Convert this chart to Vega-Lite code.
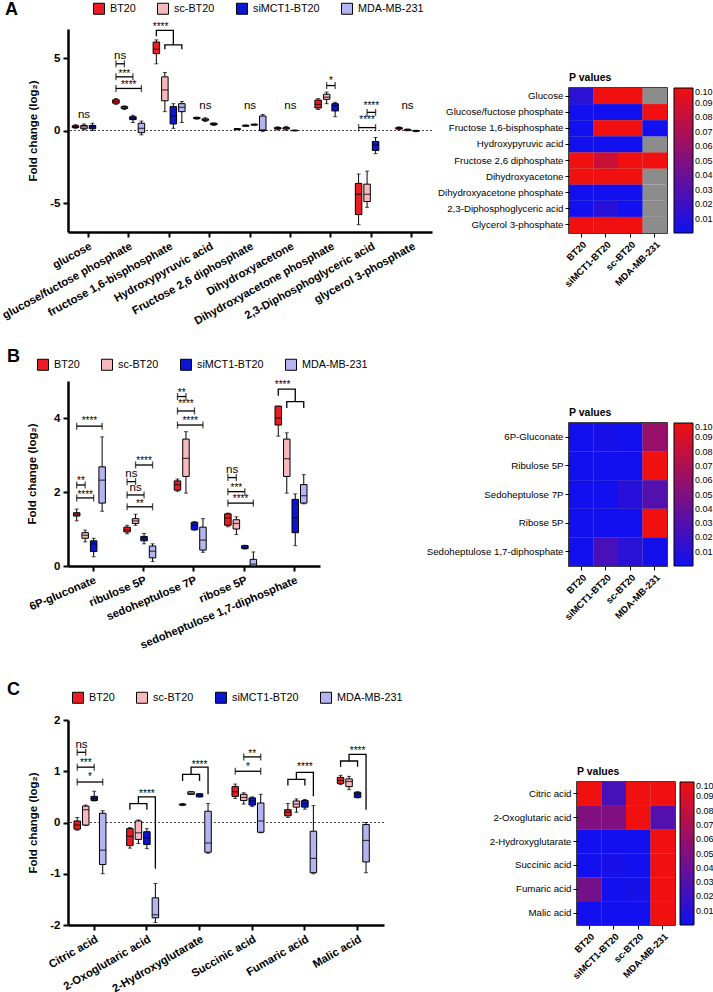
{
"$schema": "https://vega.github.io/schema/vega-lite/v6.json",
"padding": {"left": 0, "top": 2, "right": 0, "bottom": 0},
"config": {"font": "Liberation Sans", "view": {"stroke": null}, "axis": {"domainColor": "black", "tickColor": "black", "labelColor": "black", "titleColor": "black", "grid": false}, "legend": {"labelColor": "black", "titleColor": "black"}, "title": {"color": "black"}},
"datasets": {
"boxA": [
{"m":"glucose","g":"BT20","min":0.15,"q1":0.2,"med":0.27,"q3":0.33,"max":0.4},
{"m":"glucose","g":"sc-BT20","min":0.05,"q1":0.12,"med":0.25,"q3":0.35,"max":0.45},
{"m":"glucose","g":"siMCT1-BT20","min":0.0,"q1":0.12,"med":0.25,"q3":0.35,"max":0.5},
{"m":"glucose/fuctose phosphate","g":"BT20","min":1.8,"q1":1.88,"med":2.0,"q3":2.12,"max":2.2},
{"m":"glucose/fuctose phosphate","g":"sc-BT20","min":1.45,"q1":1.52,"med":1.58,"q3":1.65,"max":1.7},
{"m":"glucose/fuctose phosphate","g":"siMCT1-BT20","min":0.55,"q1":0.75,"med":0.85,"q3":0.95,"max":1.05},
{"m":"glucose/fuctose phosphate","g":"MDA-MB-231","min":-0.3,"q1":-0.15,"med":0.15,"q3":0.5,"max":0.65},
{"m":"fructose 1,6-bisphosphate","g":"BT20","min":4.6,"q1":5.3,"med":5.6,"q3":6.1,"max":6.25},
{"m":"fructose 1,6-bisphosphate","g":"sc-BT20","min":1.3,"q1":2.05,"med":2.8,"q3":3.7,"max":4.0},
{"m":"fructose 1,6-bisphosphate","g":"siMCT1-BT20","min":0.15,"q1":0.45,"med":1.0,"q3":1.65,"max":1.85},
{"m":"fructose 1,6-bisphosphate","g":"MDA-MB-231","min":0.55,"q1":1.3,"med":1.6,"q3":1.85,"max":2.0},
{"m":"Hydroxypyruvic acid","g":"BT20","min":0.78,"q1":0.82,"med":0.85,"q3":0.9,"max":0.92},
{"m":"Hydroxypyruvic acid","g":"sc-BT20","min":0.62,"q1":0.7,"med":0.75,"q3":0.8,"max":0.88},
{"m":"Hydroxypyruvic acid","g":"siMCT1-BT20","min":0.35,"q1":0.4,"med":0.45,"q3":0.5,"max":0.52},
{"m":"Fructose 2,6 diphosphate","g":"BT20","min":0.05,"q1":0.07,"med":0.1,"q3":0.12,"max":0.14},
{"m":"Fructose 2,6 diphosphate","g":"sc-BT20","min":0.28,"q1":0.3,"med":0.33,"q3":0.36,"max":0.38},
{"m":"Fructose 2,6 diphosphate","g":"siMCT1-BT20","min":0.36,"q1":0.38,"med":0.4,"q3":0.43,"max":0.45},
{"m":"Fructose 2,6 diphosphate","g":"MDA-MB-231","min":-0.08,"q1":0.0,"med":0.05,"q3":1.0,"max":1.1},
{"m":"Dihydroxyacetone","g":"BT20","min":0.05,"q1":0.1,"med":0.15,"q3":0.2,"max":0.25},
{"m":"Dihydroxyacetone","g":"sc-BT20","min":0.02,"q1":0.1,"med":0.15,"q3":0.2,"max":0.28},
{"m":"Dihydroxyacetone","g":"siMCT1-BT20","min":-0.03,"q1":-0.01,"med":0.0,"q3":0.01,"max":0.03},
{"m":"Dihydroxyacetone phosphate","g":"BT20","min":1.45,"q1":1.55,"med":1.8,"q3":2.1,"max":2.2},
{"m":"Dihydroxyacetone phosphate","g":"sc-BT20","min":1.85,"q1":2.15,"med":2.3,"q3":2.5,"max":2.65},
{"m":"Dihydroxyacetone phosphate","g":"siMCT1-BT20","min":0.95,"q1":1.35,"med":1.7,"q3":1.85,"max":1.95},
{"m":"2,3-Diphosphoglyceric acid","g":"BT20","min":-6.5,"q1":-5.8,"med":-4.4,"q3":-3.65,"max":-3.0},
{"m":"2,3-Diphosphoglyceric acid","g":"sc-BT20","min":-5.3,"q1":-4.9,"med":-4.4,"q3":-3.7,"max":-2.8},
{"m":"2,3-Diphosphoglyceric acid","g":"siMCT1-BT20","min":-1.6,"q1":-1.38,"med":-1.0,"q3":-0.76,"max":-0.48},
{"m":"glycerol 3-phosphate","g":"BT20","min":0.05,"q1":0.1,"med":0.15,"q3":0.2,"max":0.25},
{"m":"glycerol 3-phosphate","g":"sc-BT20","min":-0.02,"q1":0.02,"med":0.05,"q3":0.08,"max":0.1},
{"m":"glycerol 3-phosphate","g":"siMCT1-BT20","min":-0.08,"q1":-0.05,"med":-0.03,"q3":0.0,"max":0.02}
],
"brA": [
{"id":"a1","m":"glucose/fuctose phosphate","from":"BT20","to":"sc-BT20","y":4.6},
{"id":"a2","m":"glucose/fuctose phosphate","from":"BT20","to":"siMCT1-BT20","y":3.7},
{"id":"a3","m":"glucose/fuctose phosphate","from":"BT20","to":"MDA-MB-231","y":2.9},
{"id":"a4","m":"Dihydroxyacetone phosphate","from":"sc-BT20","to":"siMCT1-BT20","y":3.1},
{"id":"a5","m":"2,3-Diphosphoglyceric acid","from":"sc-BT20","to":"siMCT1-BT20","y":1.25},
{"id":"a6","m":"2,3-Diphosphoglyceric acid","from":"BT20","to":"siMCT1-BT20","y":0.2}
],
"pathA": [
{"id":"p1","m":"fructose 1,6-bisphosphate","slot":"BT20","y":6.5,"o":1},
{"id":"p1","m":"fructose 1,6-bisphosphate","slot":"BT20","y":6.9,"o":2},
{"id":"p1","m":"fructose 1,6-bisphosphate","slot":"siMCT1-BT20","y":6.9,"o":3},
{"id":"p1","m":"fructose 1,6-bisphosphate","slot":"siMCT1-BT20","y":5.9,"o":4},
{"id":"p2","m":"fructose 1,6-bisphosphate","slot":"sc-BT20","y":5.6,"o":1},
{"id":"p2","m":"fructose 1,6-bisphosphate","slot":"sc-BT20","y":5.9,"o":2},
{"id":"p2","m":"fructose 1,6-bisphosphate","slot":"MDA-MB-231","y":5.9,"o":3},
{"id":"p2","m":"fructose 1,6-bisphosphate","slot":"MDA-MB-231","y":5.6,"o":4}
],
"lblA": [
{"m":"glucose","mid":"sc-BT20","y":1.1,"t":"ns"},
{"m":"glucose/fuctose phosphate","mid":"BT20/sc-BT20","y":5.15,"t":"ns"},
{"m":"glucose/fuctose phosphate","mid":"sc-BT20","y":4.05,"t":"***"},
{"m":"glucose/fuctose phosphate","mid":"sc-BT20/siMCT1-BT20","y":3.25,"t":"****"},
{"m":"fructose 1,6-bisphosphate","mid":"BT20/sc-BT20","y":7.3,"t":"****"},
{"m":"Hydroxypyruvic acid","mid":"sc-BT20","y":1.72,"t":"ns"},
{"m":"Fructose 2,6 diphosphate","mid":"sc-BT20/siMCT1-BT20","y":1.72,"t":"ns"},
{"m":"Dihydroxyacetone","mid":"sc-BT20/siMCT1-BT20","y":1.72,"t":"ns"},
{"m":"Dihydroxyacetone phosphate","mid":"sc-BT20/siMCT1-BT20","y":3.55,"t":"*"},
{"m":"2,3-Diphosphoglyceric acid","mid":"sc-BT20/siMCT1-BT20","y":1.8,"t":"****"},
{"m":"2,3-Diphosphoglyceric acid","mid":"sc-BT20","y":0.83,"t":"****"},
{"m":"glycerol 3-phosphate","mid":"sc-BT20","y":1.72,"t":"ns"}
],
"boxB": [
{"m":"6P-gluconate","g":"BT20","min":1.22,"q1":1.35,"med":1.4,"q3":1.44,"max":1.54},
{"m":"6P-gluconate","g":"sc-BT20","min":0.65,"q1":0.75,"med":0.83,"q3":0.9,"max":0.97},
{"m":"6P-gluconate","g":"siMCT1-BT20","min":0.25,"q1":0.39,"med":0.6,"q3":0.68,"max":0.75},
{"m":"6P-gluconate","g":"MDA-MB-231","min":1.48,"q1":1.7,"med":2.32,"q3":2.68,"max":3.49},
{"m":"ribulose 5P","g":"BT20","min":0.87,"q1":0.92,"med":0.98,"q3":1.05,"max":1.1},
{"m":"ribulose 5P","g":"sc-BT20","min":1.1,"q1":1.15,"med":1.22,"q3":1.28,"max":1.4},
{"m":"ribulose 5P","g":"siMCT1-BT20","min":0.6,"q1":0.68,"med":0.75,"q3":0.8,"max":0.88},
{"m":"ribulose 5P","g":"MDA-MB-231","min":0.12,"q1":0.22,"med":0.4,"q3":0.54,"max":0.6},
{"m":"sedoheptulose 7P","g":"BT20","min":2.02,"q1":2.05,"med":2.2,"q3":2.3,"max":2.35},
{"m":"sedoheptulose 7P","g":"sc-BT20","min":1.97,"q1":2.42,"med":2.91,"q3":3.43,"max":3.63},
{"m":"sedoheptulose 7P","g":"siMCT1-BT20","min":0.97,"q1":0.98,"med":1.1,"q3":1.18,"max":1.2},
{"m":"sedoheptulose 7P","g":"MDA-MB-231","min":0.37,"q1":0.43,"med":0.7,"q3":1.05,"max":1.28},
{"m":"ribose 5P","g":"BT20","min":1.06,"q1":1.1,"med":1.3,"q3":1.41,"max":1.43},
{"m":"ribose 5P","g":"sc-BT20","min":0.85,"q1":1.0,"med":1.15,"q3":1.25,"max":1.33},
{"m":"ribose 5P","g":"siMCT1-BT20","min":0.46,"q1":0.47,"med":0.5,"q3":0.55,"max":0.56},
{"m":"ribose 5P","g":"MDA-MB-231","min":0.0,"q1":0.0,"med":0.05,"q3":0.18,"max":0.38},
{"m":"sedoheptulose 1,7-diphosphate","g":"BT20","min":3.51,"q1":3.81,"med":4.0,"q3":4.32,"max":4.32},
{"m":"sedoheptulose 1,7-diphosphate","g":"sc-BT20","min":1.97,"q1":2.42,"med":2.9,"q3":3.43,"max":3.6},
{"m":"sedoheptulose 1,7-diphosphate","g":"siMCT1-BT20","min":0.55,"q1":0.9,"med":1.3,"q3":1.8,"max":1.95},
{"m":"sedoheptulose 1,7-diphosphate","g":"MDA-MB-231","min":1.68,"q1":1.7,"med":1.9,"q3":2.2,"max":2.47}
],
"brB": [
{"id":"b1","m":"6P-gluconate","from":"BT20","to":"MDA-MB-231","y":3.78},
{"id":"b2","m":"6P-gluconate","from":"BT20","to":"sc-BT20","y":2.19},
{"id":"b3","m":"6P-gluconate","from":"BT20","to":"siMCT1-BT20","y":1.84},
{"id":"b4","m":"ribulose 5P","from":"sc-BT20","to":"MDA-MB-231","y":2.73},
{"id":"b5","m":"ribulose 5P","from":"BT20","to":"sc-BT20","y":2.28},
{"id":"b6","m":"ribulose 5P","from":"BT20","to":"siMCT1-BT20","y":1.92},
{"id":"b7","m":"ribulose 5P","from":"BT20","to":"MDA-MB-231","y":1.6},
{"id":"b8","m":"sedoheptulose 7P","from":"BT20","to":"sc-BT20","y":4.58},
{"id":"b9","m":"sedoheptulose 7P","from":"BT20","to":"siMCT1-BT20","y":4.19},
{"id":"b10","m":"sedoheptulose 7P","from":"BT20","to":"MDA-MB-231","y":3.81},
{"id":"b11","m":"ribose 5P","from":"BT20","to":"sc-BT20","y":2.39},
{"id":"b12","m":"ribose 5P","from":"BT20","to":"siMCT1-BT20","y":2.01},
{"id":"b13","m":"ribose 5P","from":"BT20","to":"MDA-MB-231","y":1.7}
],
"pathB": [
{"id":"q1","m":"sedoheptulose 1,7-diphosphate","slot":"BT20","y":4.6,"o":1},
{"id":"q1","m":"sedoheptulose 1,7-diphosphate","slot":"BT20","y":4.78,"o":2},
{"id":"q1","m":"sedoheptulose 1,7-diphosphate","slot":"siMCT1-BT20","y":4.78,"o":3},
{"id":"q1","m":"sedoheptulose 1,7-diphosphate","slot":"siMCT1-BT20","y":4.44,"o":4},
{"id":"q2","m":"sedoheptulose 1,7-diphosphate","slot":"sc-BT20","y":4.27,"o":1},
{"id":"q2","m":"sedoheptulose 1,7-diphosphate","slot":"sc-BT20","y":4.44,"o":2},
{"id":"q2","m":"sedoheptulose 1,7-diphosphate","slot":"MDA-MB-231","y":4.44,"o":3},
{"id":"q2","m":"sedoheptulose 1,7-diphosphate","slot":"MDA-MB-231","y":4.27,"o":4}
],
"lblB": [
{"m":"6P-gluconate","mid":"sc-BT20/siMCT1-BT20","y":3.97,"t":"****"},
{"m":"6P-gluconate","mid":"BT20/sc-BT20","y":2.35,"t":"**"},
{"m":"6P-gluconate","mid":"sc-BT20","y":1.97,"t":"****"},
{"m":"ribulose 5P","mid":"siMCT1-BT20","y":2.9,"t":"****"},
{"m":"ribulose 5P","mid":"BT20/sc-BT20","y":2.5,"t":"ns"},
{"m":"ribulose 5P","mid":"sc-BT20","y":2.12,"t":"ns"},
{"m":"ribulose 5P","mid":"sc-BT20/siMCT1-BT20","y":1.72,"t":"**"},
{"m":"sedoheptulose 7P","mid":"BT20/sc-BT20","y":4.72,"t":"**"},
{"m":"sedoheptulose 7P","mid":"sc-BT20","y":4.43,"t":"****"},
{"m":"sedoheptulose 7P","mid":"sc-BT20/siMCT1-BT20","y":3.96,"t":"****"},
{"m":"ribose 5P","mid":"BT20/sc-BT20","y":2.6,"t":"ns"},
{"m":"ribose 5P","mid":"sc-BT20","y":2.17,"t":"***"},
{"m":"ribose 5P","mid":"sc-BT20/siMCT1-BT20","y":1.86,"t":"****"},
{"m":"sedoheptulose 1,7-diphosphate","mid":"BT20/sc-BT20","y":4.95,"t":"****"}
],
"boxC": [
{"m":"Citric acid","g":"BT20","min":-0.15,"q1":-0.13,"med":-0.05,"q3":0.03,"max":0.1},
{"m":"Citric acid","g":"sc-BT20","min":-0.06,"q1":-0.05,"med":0.25,"q3":0.32,"max":0.34},
{"m":"Citric acid","g":"siMCT1-BT20","min":0.42,"q1":0.43,"med":0.47,"q3":0.51,"max":0.61},
{"m":"Citric acid","g":"MDA-MB-231","min":-1.0,"q1":-0.82,"med":-0.54,"q3":0.18,"max":0.23},
{"m":"2-Oxoglutaric acid","g":"BT20","min":-0.5,"q1":-0.45,"med":-0.27,"q3":-0.12,"max":-0.1},
{"m":"2-Oxoglutaric acid","g":"sc-BT20","min":-0.41,"q1":-0.33,"med":-0.2,"q3":0.03,"max":0.05},
{"m":"2-Oxoglutaric acid","g":"siMCT1-BT20","min":-0.51,"q1":-0.43,"med":-0.3,"q3":-0.18,"max":-0.12},
{"m":"2-Oxoglutaric acid","g":"MDA-MB-231","min":-1.95,"q1":-1.86,"med":-1.8,"q3":-1.47,"max":-1.19},
{"m":"2-Hydroxyglutarate","g":"BT20","min":0.33,"q1":0.34,"med":0.35,"q3":0.36,"max":0.37},
{"m":"2-Hydroxyglutarate","g":"sc-BT20","min":0.55,"q1":0.55,"med":0.57,"q3":0.6,"max":0.6},
{"m":"2-Hydroxyglutarate","g":"siMCT1-BT20","min":0.5,"q1":0.5,"med":0.53,"q3":0.56,"max":0.56},
{"m":"2-Hydroxyglutarate","g":"MDA-MB-231","min":-0.6,"q1":-0.58,"med":-0.4,"q3":0.22,"max":0.37},
{"m":"Succinic acid","g":"BT20","min":0.47,"q1":0.51,"med":0.6,"q3":0.7,"max":0.75},
{"m":"Succinic acid","g":"sc-BT20","min":0.36,"q1":0.43,"med":0.49,"q3":0.55,"max":0.58},
{"m":"Succinic acid","g":"siMCT1-BT20","min":0.31,"q1":0.34,"med":0.42,"q3":0.48,"max":0.5},
{"m":"Succinic acid","g":"MDA-MB-231","min":-0.2,"q1":-0.19,"med":0.03,"q3":0.38,"max":0.55},
{"m":"Fumaric acid","g":"BT20","min":0.1,"q1":0.13,"med":0.2,"q3":0.25,"max":0.37},
{"m":"Fumaric acid","g":"sc-BT20","min":0.2,"q1":0.3,"med":0.36,"q3":0.42,"max":0.46},
{"m":"Fumaric acid","g":"siMCT1-BT20","min":0.26,"q1":0.3,"med":0.37,"q3":0.43,"max":0.45},
{"m":"Fumaric acid","g":"MDA-MB-231","min":-1.0,"q1":-0.98,"med":-0.7,"q3":-0.17,"max":0.33},
{"m":"Malic acid","g":"BT20","min":0.74,"q1":0.76,"med":0.82,"q3":0.88,"max":0.92},
{"m":"Malic acid","g":"sc-BT20","min":0.64,"q1":0.7,"med":0.8,"q3":0.85,"max":0.9},
{"m":"Malic acid","g":"siMCT1-BT20","min":0.48,"q1":0.49,"med":0.55,"q3":0.59,"max":0.6},
{"m":"Malic acid","g":"MDA-MB-231","min":-0.98,"q1":-0.77,"med":-0.35,"q3":-0.04,"max":0.0}
],
"brC": [
{"id":"c1","m":"Citric acid","from":"BT20","to":"sc-BT20","y":1.37},
{"id":"c2","m":"Citric acid","from":"BT20","to":"siMCT1-BT20","y":1.08},
{"id":"c3","m":"Citric acid","from":"BT20","to":"MDA-MB-231","y":0.79},
{"id":"c4","m":"Succinic acid","from":"sc-BT20","to":"MDA-MB-231","y":1.28},
{"id":"c5","m":"Succinic acid","from":"BT20","to":"MDA-MB-231","y":1.0}
],
"pathC": [
{"id":"r1","m":"2-Oxoglutaric acid","slot":"sc-BT20","y":0.37,"o":1},
{"id":"r1","m":"2-Oxoglutaric acid","slot":"sc-BT20","y":0.5,"o":2},
{"id":"r1","m":"2-Oxoglutaric acid","slot":"MDA-MB-231","y":0.5,"o":3},
{"id":"r1","m":"2-Oxoglutaric acid","slot":"MDA-MB-231","y":-0.9,"o":4},
{"id":"r2","m":"2-Oxoglutaric acid","slot":"BT20","y":0.25,"o":1},
{"id":"r2","m":"2-Oxoglutaric acid","slot":"BT20","y":0.37,"o":2},
{"id":"r2","m":"2-Oxoglutaric acid","slot":"siMCT1-BT20","y":0.37,"o":3},
{"id":"r2","m":"2-Oxoglutaric acid","slot":"siMCT1-BT20","y":0.25,"o":4},
{"id":"r3","m":"2-Hydroxyglutarate","slot":"sc-BT20","y":0.94,"o":1},
{"id":"r3","m":"2-Hydroxyglutarate","slot":"sc-BT20","y":1.08,"o":2},
{"id":"r3","m":"2-Hydroxyglutarate","slot":"MDA-MB-231","y":1.08,"o":3},
{"id":"r3","m":"2-Hydroxyglutarate","slot":"MDA-MB-231","y":0.55,"o":4},
{"id":"r4","m":"2-Hydroxyglutarate","slot":"BT20","y":0.81,"o":1},
{"id":"r4","m":"2-Hydroxyglutarate","slot":"BT20","y":0.94,"o":2},
{"id":"r4","m":"2-Hydroxyglutarate","slot":"siMCT1-BT20","y":0.94,"o":3},
{"id":"r4","m":"2-Hydroxyglutarate","slot":"siMCT1-BT20","y":0.81,"o":4},
{"id":"r5","m":"Fumaric acid","slot":"sc-BT20","y":0.84,"o":1},
{"id":"r5","m":"Fumaric acid","slot":"sc-BT20","y":0.98,"o":2},
{"id":"r5","m":"Fumaric acid","slot":"MDA-MB-231","y":0.98,"o":3},
{"id":"r5","m":"Fumaric acid","slot":"MDA-MB-231","y":0.51,"o":4},
{"id":"r6","m":"Fumaric acid","slot":"BT20","y":0.72,"o":1},
{"id":"r6","m":"Fumaric acid","slot":"BT20","y":0.84,"o":2},
{"id":"r6","m":"Fumaric acid","slot":"siMCT1-BT20","y":0.84,"o":3},
{"id":"r6","m":"Fumaric acid","slot":"siMCT1-BT20","y":0.72,"o":4},
{"id":"r7","m":"Malic acid","slot":"sc-BT20","y":1.2,"o":1},
{"id":"r7","m":"Malic acid","slot":"sc-BT20","y":1.33,"o":2},
{"id":"r7","m":"Malic acid","slot":"MDA-MB-231","y":1.33,"o":3},
{"id":"r7","m":"Malic acid","slot":"MDA-MB-231","y":0.25,"o":4},
{"id":"r8","m":"Malic acid","slot":"BT20","y":1.09,"o":1},
{"id":"r8","m":"Malic acid","slot":"BT20","y":1.2,"o":2},
{"id":"r8","m":"Malic acid","slot":"siMCT1-BT20","y":1.2,"o":3},
{"id":"r8","m":"Malic acid","slot":"siMCT1-BT20","y":1.09,"o":4}
],
"lblC": [
{"m":"Citric acid","mid":"BT20/sc-BT20","y":1.52,"t":"ns"},
{"m":"Citric acid","mid":"sc-BT20","y":1.2,"t":"***"},
{"m":"Citric acid","mid":"sc-BT20/siMCT1-BT20","y":0.93,"t":"*"},
{"m":"2-Oxoglutaric acid","mid":"siMCT1-BT20","y":0.6,"t":"****"},
{"m":"2-Hydroxyglutarate","mid":"siMCT1-BT20","y":1.17,"t":"****"},
{"m":"Succinic acid","mid":"siMCT1-BT20","y":1.38,"t":"**"},
{"m":"Succinic acid","mid":"sc-BT20/siMCT1-BT20","y":1.12,"t":"*"},
{"m":"Fumaric acid","mid":"siMCT1-BT20","y":1.12,"t":"****"},
{"m":"Malic acid","mid":"siMCT1-BT20","y":1.43,"t":"****"}
],
"heatA": [
{"m":"Glucose","g":"BT20","p":0.012},{"m":"Glucose","g":"siMCT1-BT20","p":0.1},{"m":"Glucose","g":"sc-BT20","p":0.1},{"m":"Glucose","g":"MDA-MB-231","p":null},
{"m":"Glucose/fuctose phosphate","g":"BT20","p":0.001},{"m":"Glucose/fuctose phosphate","g":"siMCT1-BT20","p":0.001},{"m":"Glucose/fuctose phosphate","g":"sc-BT20","p":0.001},{"m":"Glucose/fuctose phosphate","g":"MDA-MB-231","p":0.1},
{"m":"Fructose 1,6-bisphosphate","g":"BT20","p":0.001},{"m":"Fructose 1,6-bisphosphate","g":"siMCT1-BT20","p":0.1},{"m":"Fructose 1,6-bisphosphate","g":"sc-BT20","p":0.1},{"m":"Fructose 1,6-bisphosphate","g":"MDA-MB-231","p":0.001},
{"m":"Hydroxypyruvic acid","g":"BT20","p":0.001},{"m":"Hydroxypyruvic acid","g":"siMCT1-BT20","p":0.001},{"m":"Hydroxypyruvic acid","g":"sc-BT20","p":0.001},{"m":"Hydroxypyruvic acid","g":"MDA-MB-231","p":null},
{"m":"Fructose 2,6 diphosphate","g":"BT20","p":0.1},{"m":"Fructose 2,6 diphosphate","g":"siMCT1-BT20","p":0.083},{"m":"Fructose 2,6 diphosphate","g":"sc-BT20","p":0.1},{"m":"Fructose 2,6 diphosphate","g":"MDA-MB-231","p":0.1},
{"m":"Dihydroxyacetone","g":"BT20","p":0.1},{"m":"Dihydroxyacetone","g":"siMCT1-BT20","p":0.1},{"m":"Dihydroxyacetone","g":"sc-BT20","p":0.1},{"m":"Dihydroxyacetone","g":"MDA-MB-231","p":null},
{"m":"Dihydroxyacetone phosphate","g":"BT20","p":0.001},{"m":"Dihydroxyacetone phosphate","g":"siMCT1-BT20","p":0.001},{"m":"Dihydroxyacetone phosphate","g":"sc-BT20","p":0.001},{"m":"Dihydroxyacetone phosphate","g":"MDA-MB-231","p":null},
{"m":"2,3-Diphosphoglyceric acid","g":"BT20","p":0.001},{"m":"2,3-Diphosphoglyceric acid","g":"siMCT1-BT20","p":0.01},{"m":"2,3-Diphosphoglyceric acid","g":"sc-BT20","p":0.001},{"m":"2,3-Diphosphoglyceric acid","g":"MDA-MB-231","p":null},
{"m":"Glycerol 3-phosphate","g":"BT20","p":0.1},{"m":"Glycerol 3-phosphate","g":"siMCT1-BT20","p":0.1},{"m":"Glycerol 3-phosphate","g":"sc-BT20","p":0.1},{"m":"Glycerol 3-phosphate","g":"MDA-MB-231","p":null}
],
"heatB": [
{"m":"6P-Gluconate","g":"BT20","p":0.001},{"m":"6P-Gluconate","g":"siMCT1-BT20","p":0.003},{"m":"6P-Gluconate","g":"sc-BT20","p":0.001},{"m":"6P-Gluconate","g":"MDA-MB-231","p":0.06},
{"m":"Ribulose 5P","g":"BT20","p":0.001},{"m":"Ribulose 5P","g":"siMCT1-BT20","p":0.001},{"m":"Ribulose 5P","g":"sc-BT20","p":0.001},{"m":"Ribulose 5P","g":"MDA-MB-231","p":0.1},
{"m":"Sedoheptulose 7P","g":"BT20","p":0.001},{"m":"Sedoheptulose 7P","g":"siMCT1-BT20","p":0.001},{"m":"Sedoheptulose 7P","g":"sc-BT20","p":0.01},{"m":"Sedoheptulose 7P","g":"MDA-MB-231","p":0.03},
{"m":"Ribose 5P","g":"BT20","p":0.001},{"m":"Ribose 5P","g":"siMCT1-BT20","p":0.001},{"m":"Ribose 5P","g":"sc-BT20","p":0.001},{"m":"Ribose 5P","g":"MDA-MB-231","p":0.1},
{"m":"Sedoheptulose 1,7-diphosphate","g":"BT20","p":0.001},{"m":"Sedoheptulose 1,7-diphosphate","g":"siMCT1-BT20","p":0.025},{"m":"Sedoheptulose 1,7-diphosphate","g":"sc-BT20","p":0.012},{"m":"Sedoheptulose 1,7-diphosphate","g":"MDA-MB-231","p":0.002}
],
"heatC": [
{"m":"Citric acid","g":"BT20","p":0.1},{"m":"Citric acid","g":"siMCT1-BT20","p":0.025},{"m":"Citric acid","g":"sc-BT20","p":0.1},{"m":"Citric acid","g":"MDA-MB-231","p":0.1},
{"m":"2-Oxoglutaric acid","g":"BT20","p":0.05},{"m":"2-Oxoglutaric acid","g":"siMCT1-BT20","p":0.05},{"m":"2-Oxoglutaric acid","g":"sc-BT20","p":0.1},{"m":"2-Oxoglutaric acid","g":"MDA-MB-231","p":0.03},
{"m":"2-Hydroxyglutarate","g":"BT20","p":0.001},{"m":"2-Hydroxyglutarate","g":"siMCT1-BT20","p":0.001},{"m":"2-Hydroxyglutarate","g":"sc-BT20","p":0.001},{"m":"2-Hydroxyglutarate","g":"MDA-MB-231","p":0.1},
{"m":"Succinic acid","g":"BT20","p":0.001},{"m":"Succinic acid","g":"siMCT1-BT20","p":0.003},{"m":"Succinic acid","g":"sc-BT20","p":0.001},{"m":"Succinic acid","g":"MDA-MB-231","p":0.1},
{"m":"Fumaric acid","g":"BT20","p":0.045},{"m":"Fumaric acid","g":"siMCT1-BT20","p":0.001},{"m":"Fumaric acid","g":"sc-BT20","p":0.003},{"m":"Fumaric acid","g":"MDA-MB-231","p":0.1},
{"m":"Malic acid","g":"BT20","p":0.001},{"m":"Malic acid","g":"siMCT1-BT20","p":0.001},{"m":"Malic acid","g":"sc-BT20","p":0.001},{"m":"Malic acid","g":"MDA-MB-231","p":0.1}
]
},
"resolve": {"scale": {"fill": "independent", "color": "independent"}, "legend": {"fill": "independent", "color": "independent"}},
"spacing": 31,
"vconcat": [
{
"resolve": {"scale": {"fill": "independent", "color": "independent"}, "legend": {"fill": "independent", "color": "independent"}},
"spacing": 3,
"hconcat": [
{
"width": 364, "height": 203,
"layer": [
{"data": {"values": [{}]}, "mark": {"type": "rule", "strokeDash": [2, 2], "color": "#444", "strokeWidth": 1}, "encoding": {"y": {"datum": 0, "type": "quantitative", "scale": {"domain": [-7, 7], "nice": false, "zero": false}}}},
{
"encoding": {"x": {"field": "m", "type": "nominal", "sort": ["glucose","glucose/fuctose phosphate","fructose 1,6-bisphosphate","Hydroxypyruvic acid","Fructose 2,6 diphosphate","Dihydroxyacetone","Dihydroxyacetone phosphate","2,3-Diphosphoglyceric acid","glycerol 3-phosphate"], "title": null, "scale": {"paddingInner": 0.265, "paddingOuter": 0.1325}, "axis": {"labelAngle": -29, "labelFontSize": 11.3, "labelFontWeight": "bold", "domainWidth": 2.5, "tickWidth": 2, "tickSize": 5, "labelPadding": 3, "labelLimit": 300}}},
"layer": [
{"data": {"name": "boxA"}, "mark": {"type": "rule", "color": "black", "strokeWidth": 1}, "encoding": {"xOffset": {"field": "g", "type": "nominal", "scale": {"domain": ["BT20","BT20/sc-BT20","sc-BT20","sc-BT20/siMCT1-BT20","siMCT1-BT20","siMCT1-BT20/MDA-MB-231","MDA-MB-231"], "paddingInner": 0, "paddingOuter": 0}}, "y": {"field": "min", "type": "quantitative", "scale": {"domain": [-7, 7], "nice": false, "zero": false}, "title": "Fold change (log₂)", "axis": {"values": [-5, 0, 5], "labelExpr": "''+datum.value", "labelFontSize": 11.5, "labelFontWeight": "bold", "titleFontSize": 11.5, "titleFontWeight": "bold", "domainWidth": 2.5, "tickWidth": 2, "tickSize": 5, "labelPadding": 3, "titlePadding": 11}}, "y2": {"field": "max"}}},
{"data": {"name": "boxA"}, "mark": {"type": "tick", "color": "black", "size": 4, "thickness": 1}, "encoding": {"xOffset": {"field": "g", "type": "nominal", "scale": {"domain": ["BT20","BT20/sc-BT20","sc-BT20","sc-BT20/siMCT1-BT20","siMCT1-BT20","siMCT1-BT20/MDA-MB-231","MDA-MB-231"], "paddingInner": 0, "paddingOuter": 0}}, "y": {"field": "min", "type": "quantitative", "scale": {"domain": [-7, 7], "nice": false, "zero": false}, "title": "Fold change (log₂)"}}},
{"data": {"name": "boxA"}, "mark": {"type": "tick", "color": "black", "size": 4, "thickness": 1}, "encoding": {"xOffset": {"field": "g", "type": "nominal", "scale": {"domain": ["BT20","BT20/sc-BT20","sc-BT20","sc-BT20/siMCT1-BT20","siMCT1-BT20","siMCT1-BT20/MDA-MB-231","MDA-MB-231"], "paddingInner": 0, "paddingOuter": 0}}, "y": {"field": "max", "type": "quantitative", "scale": {"domain": [-7, 7], "nice": false, "zero": false}, "title": "Fold change (log₂)"}}},
{"data": {"name": "boxA"}, "mark": {"type": "bar", "size": 6.5, "stroke": "black", "strokeWidth": 1}, "encoding": {"xOffset": {"field": "g", "type": "nominal", "scale": {"domain": ["BT20","BT20/sc-BT20","sc-BT20","sc-BT20/siMCT1-BT20","siMCT1-BT20","siMCT1-BT20/MDA-MB-231","MDA-MB-231"], "paddingInner": 0, "paddingOuter": 0}}, "y": {"field": "q1", "type": "quantitative", "scale": {"domain": [-7, 7], "nice": false, "zero": false}, "title": "Fold change (log₂)"}, "y2": {"field": "q3"}, "fill": {"field": "g", "type": "nominal", "scale": {"domain": ["BT20","sc-BT20","siMCT1-BT20","MDA-MB-231"], "range": ["#ec1c24","#f6b8bc","#0a14d2","#b4b4f0"]}, "legend": {"title": "A", "orient": "none", "legendX": -63, "legendY": -26.5, "direction": "horizontal", "titleOrient": "left", "titleBaseline": "middle", "titleFontSize": 18, "titleFontWeight": "bold", "titlePadding": 75, "symbolType": "square", "symbolSize": 121, "symbolStrokeColor": "black", "symbolStrokeWidth": 1, "labelFontSize": 10.8, "labelOffset": 5, "columnPadding": 19}}}},
{"data": {"name": "boxA"}, "mark": {"type": "tick", "color": "black", "size": 6.5, "thickness": 1.2}, "encoding": {"xOffset": {"field": "g", "type": "nominal", "scale": {"domain": ["BT20","BT20/sc-BT20","sc-BT20","sc-BT20/siMCT1-BT20","siMCT1-BT20","siMCT1-BT20/MDA-MB-231","MDA-MB-231"], "paddingInner": 0, "paddingOuter": 0}}, "y": {"field": "med", "type": "quantitative", "scale": {"domain": [-7, 7], "nice": false, "zero": false}, "title": "Fold change (log₂)"}}},
{"data": {"name": "brA"}, "transform": [{"fold": ["from", "to"], "as": ["end", "slot"]}], "mark": {"type": "line", "color": "black", "strokeWidth": 1.3}, "encoding": {"xOffset": {"field": "slot", "type": "nominal", "scale": {"domain": ["BT20","BT20/sc-BT20","sc-BT20","sc-BT20/siMCT1-BT20","siMCT1-BT20","siMCT1-BT20/MDA-MB-231","MDA-MB-231"], "paddingInner": 0, "paddingOuter": 0}}, "y": {"field": "y", "type": "quantitative", "scale": {"domain": [-7, 7], "nice": false, "zero": false}, "title": "Fold change (log₂)"}, "detail": {"field": "id"}}},
{"data": {"name": "brA"}, "transform": [{"fold": ["from", "to"], "as": ["end", "slot"]}], "mark": {"type": "tick", "orient": "vertical", "color": "black", "size": 7, "thickness": 1.3}, "encoding": {"xOffset": {"field": "slot", "type": "nominal", "scale": {"domain": ["BT20","BT20/sc-BT20","sc-BT20","sc-BT20/siMCT1-BT20","siMCT1-BT20","siMCT1-BT20/MDA-MB-231","MDA-MB-231"], "paddingInner": 0, "paddingOuter": 0}}, "y": {"field": "y", "type": "quantitative", "scale": {"domain": [-7, 7], "nice": false, "zero": false}, "title": "Fold change (log₂)"}}},
{"data": {"name": "pathA"}, "mark": {"type": "line", "color": "black", "strokeWidth": 1.3}, "encoding": {"xOffset": {"field": "slot", "type": "nominal", "scale": {"domain": ["BT20","BT20/sc-BT20","sc-BT20","sc-BT20/siMCT1-BT20","siMCT1-BT20","siMCT1-BT20/MDA-MB-231","MDA-MB-231"], "paddingInner": 0, "paddingOuter": 0}}, "y": {"field": "y", "type": "quantitative", "scale": {"domain": [-7, 7], "nice": false, "zero": false}, "title": "Fold change (log₂)"}, "detail": {"field": "id"}, "order": {"field": "o"}}},
{"data": {"name": "lblA"}, "transform": [{"filter": "datum.t == 'ns'"}], "mark": {"type": "text", "fontSize": 11.5, "color": "black", "baseline": "middle"}, "encoding": {"xOffset": {"field": "mid", "type": "nominal", "scale": {"domain": ["BT20","BT20/sc-BT20","sc-BT20","sc-BT20/siMCT1-BT20","siMCT1-BT20","siMCT1-BT20/MDA-MB-231","MDA-MB-231"], "paddingInner": 0, "paddingOuter": 0}}, "y": {"field": "y", "type": "quantitative", "scale": {"domain": [-7, 7], "nice": false, "zero": false}, "title": "Fold change (log₂)"}, "text": {"field": "t"}}},
{"data": {"name": "lblA"}, "transform": [{"filter": "datum.t != 'ns'"}], "mark": {"type": "text", "fontSize": 10, "color": "black", "baseline": "middle", "dy": 2}, "encoding": {"xOffset": {"field": "mid", "type": "nominal", "scale": {"domain": ["BT20","BT20/sc-BT20","sc-BT20","sc-BT20/siMCT1-BT20","siMCT1-BT20","siMCT1-BT20/MDA-MB-231","MDA-MB-231"], "paddingInner": 0, "paddingOuter": 0}}, "y": {"field": "y", "type": "quantitative", "scale": {"domain": [-7, 7], "nice": false, "zero": false}, "title": "Fold change (log₂)"}, "text": {"field": "t"}}}
]
}
]
},
{
"spacing": 0,
"resolve": {"scale": {"color": "independent"}, "legend": {"color": "independent"}},
"vconcat": [
{"width": 1, "height": 42, "data": {"values": []}, "mark": "point"},
{
"width": 98, "height": 145,
"title": {"text": "P values", "anchor": "start", "frame": "group", "fontSize": 10.5, "fontWeight": "bold", "offset": 5},
"view": {"stroke": "black", "strokeWidth": 1.5},
"data": {"name": "heatA"},
"encoding": {
"x": {"field": "g", "type": "nominal", "sort": ["BT20","siMCT1-BT20","sc-BT20","MDA-MB-231"], "title": null, "scale": {"paddingInner": 0, "paddingOuter": 0}, "axis": {"labelAngle": -45, "labelFontWeight": "bold", "labelFontSize": 9.5, "tickSize": 4, "domain": false, "labelPadding": 2}},
"y": {"field": "m", "type": "nominal", "sort": ["Glucose","Glucose/fuctose phosphate","Fructose 1,6-bisphosphate","Hydroxypyruvic acid","Fructose 2,6 diphosphate","Dihydroxyacetone","Dihydroxyacetone phosphate","2,3-Diphosphoglyceric acid","Glycerol 3-phosphate"], "title": null, "scale": {"paddingInner": 0, "paddingOuter": 0}, "axis": {"labelFontSize": 9.7, "tickSize": 4, "domain": false, "labelPadding": 2, "labelLimit": 250}}
},
"layer": [
{"mark": {"type": "rect", "color": "#8c8c8c"}},
{"transform": [{"filter": "isValid(datum.p)"}], "mark": "rect", "encoding": {"color": {"field": "p", "type": "quantitative", "scale": {"domain": [0, 0.1], "range": ["#1010f0", "#f01010"], "clamp": true, "interpolate": "rgb"}, "legend": {"title": null, "orient": "right", "gradientLength": 145, "gradientThickness": 19, "values": [0.01,0.02,0.03,0.04,0.05,0.06,0.07,0.08,0.09,0.1], "format": ".2f", "labelFontSize": 9, "offset": 7, "gradientStrokeColor": "black", "gradientStrokeWidth": 1, "labelOverlap": false}}}}
]
}
]
}
]
},
{
"resolve": {"scale": {"fill": "independent", "color": "independent"}, "legend": {"fill": "independent", "color": "independent"}},
"spacing": 40,
"vconcat": [
{
"resolve": {"scale": {"fill": "independent", "color": "independent"}, "legend": {"fill": "independent", "color": "independent"}},
"spacing": 57,
"hconcat": [
{
"width": 252, "height": 185,
"encoding": {"x": {"field": "m", "type": "nominal", "sort": ["6P-gluconate","ribulose 5P","sedoheptulose 7P","ribose 5P","sedoheptulose 1,7-diphosphate"], "title": null, "scale": {"paddingInner": 0.26, "paddingOuter": 0.13}, "axis": {"labelAngle": -23, "labelFontSize": 11.3, "labelFontWeight": "bold", "domainWidth": 2.5, "tickWidth": 2, "tickSize": 5, "labelPadding": 3, "labelLimit": 300}}},
"layer": [
{"data": {"name": "boxB"}, "mark": {"type": "rule", "color": "black", "strokeWidth": 1}, "encoding": {"xOffset": {"field": "g", "type": "nominal", "scale": {"domain": ["BT20","BT20/sc-BT20","sc-BT20","sc-BT20/siMCT1-BT20","siMCT1-BT20","siMCT1-BT20/MDA-MB-231","MDA-MB-231"], "paddingInner": 0, "paddingOuter": 0}}, "y": {"field": "min", "type": "quantitative", "scale": {"domain": [0, 5], "nice": false, "zero": false}, "title": "Fold change (log₂)", "axis": {"values": [0, 2, 4], "labelExpr": "''+datum.value", "labelFontSize": 11.5, "labelFontWeight": "bold", "titleFontSize": 11.5, "titleFontWeight": "bold", "domainWidth": 2.5, "tickWidth": 2, "tickSize": 5, "labelPadding": 3, "titlePadding": 16}}, "y2": {"field": "max"}}},
{"data": {"name": "boxB"}, "mark": {"type": "tick", "color": "black", "size": 4, "thickness": 1}, "encoding": {"xOffset": {"field": "g", "type": "nominal", "scale": {"domain": ["BT20","BT20/sc-BT20","sc-BT20","sc-BT20/siMCT1-BT20","siMCT1-BT20","siMCT1-BT20/MDA-MB-231","MDA-MB-231"], "paddingInner": 0, "paddingOuter": 0}}, "y": {"field": "min", "type": "quantitative", "scale": {"domain": [0, 5], "nice": false, "zero": false}, "title": "Fold change (log₂)"}}},
{"data": {"name": "boxB"}, "mark": {"type": "tick", "color": "black", "size": 4, "thickness": 1}, "encoding": {"xOffset": {"field": "g", "type": "nominal", "scale": {"domain": ["BT20","BT20/sc-BT20","sc-BT20","sc-BT20/siMCT1-BT20","siMCT1-BT20","siMCT1-BT20/MDA-MB-231","MDA-MB-231"], "paddingInner": 0, "paddingOuter": 0}}, "y": {"field": "max", "type": "quantitative", "scale": {"domain": [0, 5], "nice": false, "zero": false}, "title": "Fold change (log₂)"}}},
{"data": {"name": "boxB"}, "mark": {"type": "bar", "size": 6.5, "stroke": "black", "strokeWidth": 1}, "encoding": {"xOffset": {"field": "g", "type": "nominal", "scale": {"domain": ["BT20","BT20/sc-BT20","sc-BT20","sc-BT20/siMCT1-BT20","siMCT1-BT20","siMCT1-BT20/MDA-MB-231","MDA-MB-231"], "paddingInner": 0, "paddingOuter": 0}}, "y": {"field": "q1", "type": "quantitative", "scale": {"domain": [0, 5], "nice": false, "zero": false}, "title": "Fold change (log₂)"}, "y2": {"field": "q3"}, "fill": {"field": "g", "type": "nominal", "scale": {"domain": ["BT20","sc-BT20","siMCT1-BT20","MDA-MB-231"], "range": ["#ec1c24","#f6b8bc","#0a14d2","#b4b4f0"]}, "legend": {"title": "B", "orient": "none", "legendX": -61, "legendY": -22.5, "direction": "horizontal", "titleOrient": "left", "titleBaseline": "bottom", "titleFontSize": 18, "titleFontWeight": "bold", "titlePadding": 17, "symbolType": "square", "symbolSize": 121, "symbolStrokeColor": "black", "symbolStrokeWidth": 1, "labelFontSize": 10.8, "labelOffset": 5, "columnPadding": 19}}}},
{"data": {"name": "boxB"}, "mark": {"type": "tick", "color": "black", "size": 6.5, "thickness": 1.2}, "encoding": {"xOffset": {"field": "g", "type": "nominal", "scale": {"domain": ["BT20","BT20/sc-BT20","sc-BT20","sc-BT20/siMCT1-BT20","siMCT1-BT20","siMCT1-BT20/MDA-MB-231","MDA-MB-231"], "paddingInner": 0, "paddingOuter": 0}}, "y": {"field": "med", "type": "quantitative", "scale": {"domain": [0, 5], "nice": false, "zero": false}, "title": "Fold change (log₂)"}}},
{"data": {"name": "brB"}, "transform": [{"fold": ["from", "to"], "as": ["end", "slot"]}], "mark": {"type": "line", "color": "black", "strokeWidth": 1.3}, "encoding": {"xOffset": {"field": "slot", "type": "nominal", "scale": {"domain": ["BT20","BT20/sc-BT20","sc-BT20","sc-BT20/siMCT1-BT20","siMCT1-BT20","siMCT1-BT20/MDA-MB-231","MDA-MB-231"], "paddingInner": 0, "paddingOuter": 0}}, "y": {"field": "y", "type": "quantitative", "scale": {"domain": [0, 5], "nice": false, "zero": false}, "title": "Fold change (log₂)"}, "detail": {"field": "id"}}},
{"data": {"name": "brB"}, "transform": [{"fold": ["from", "to"], "as": ["end", "slot"]}], "mark": {"type": "tick", "orient": "vertical", "color": "black", "size": 7, "thickness": 1.3}, "encoding": {"xOffset": {"field": "slot", "type": "nominal", "scale": {"domain": ["BT20","BT20/sc-BT20","sc-BT20","sc-BT20/siMCT1-BT20","siMCT1-BT20","siMCT1-BT20/MDA-MB-231","MDA-MB-231"], "paddingInner": 0, "paddingOuter": 0}}, "y": {"field": "y", "type": "quantitative", "scale": {"domain": [0, 5], "nice": false, "zero": false}, "title": "Fold change (log₂)"}}},
{"data": {"name": "pathB"}, "mark": {"type": "line", "color": "black", "strokeWidth": 1.3}, "encoding": {"xOffset": {"field": "slot", "type": "nominal", "scale": {"domain": ["BT20","BT20/sc-BT20","sc-BT20","sc-BT20/siMCT1-BT20","siMCT1-BT20","siMCT1-BT20/MDA-MB-231","MDA-MB-231"], "paddingInner": 0, "paddingOuter": 0}}, "y": {"field": "y", "type": "quantitative", "scale": {"domain": [0, 5], "nice": false, "zero": false}, "title": "Fold change (log₂)"}, "detail": {"field": "id"}, "order": {"field": "o"}}},
{"data": {"name": "lblB"}, "transform": [{"filter": "datum.t == 'ns'"}], "mark": {"type": "text", "fontSize": 11.5, "color": "black", "baseline": "middle"}, "encoding": {"xOffset": {"field": "mid", "type": "nominal", "scale": {"domain": ["BT20","BT20/sc-BT20","sc-BT20","sc-BT20/siMCT1-BT20","siMCT1-BT20","siMCT1-BT20/MDA-MB-231","MDA-MB-231"], "paddingInner": 0, "paddingOuter": 0}}, "y": {"field": "y", "type": "quantitative", "scale": {"domain": [0, 5], "nice": false, "zero": false}, "title": "Fold change (log₂)"}, "text": {"field": "t"}}},
{"data": {"name": "lblB"}, "transform": [{"filter": "datum.t != 'ns'"}], "mark": {"type": "text", "fontSize": 10, "color": "black", "baseline": "middle", "dy": 2}, "encoding": {"xOffset": {"field": "mid", "type": "nominal", "scale": {"domain": ["BT20","BT20/sc-BT20","sc-BT20","sc-BT20/siMCT1-BT20","siMCT1-BT20","siMCT1-BT20/MDA-MB-231","MDA-MB-231"], "paddingInner": 0, "paddingOuter": 0}}, "y": {"field": "y", "type": "quantitative", "scale": {"domain": [0, 5], "nice": false, "zero": false}, "title": "Fold change (log₂)"}, "text": {"field": "t"}}}
]
},
{
"spacing": 0,
"resolve": {"scale": {"color": "independent"}, "legend": {"color": "independent"}},
"vconcat": [
{"width": 1, "height": 24.5, "data": {"values": []}, "mark": "point"},
{
"width": 98, "height": 143,
"title": {"text": "P values", "anchor": "start", "frame": "group", "fontSize": 10.5, "fontWeight": "bold", "offset": 5},
"view": {"stroke": "black", "strokeWidth": 1.5},
"data": {"name": "heatB"},
"encoding": {
"x": {"field": "g", "type": "nominal", "sort": ["BT20","siMCT1-BT20","sc-BT20","MDA-MB-231"], "title": null, "scale": {"paddingInner": 0, "paddingOuter": 0}, "axis": {"labelAngle": -45, "labelFontWeight": "bold", "labelFontSize": 9.5, "tickSize": 4, "domain": false, "labelPadding": 2}},
"y": {"field": "m", "type": "nominal", "sort": ["6P-Gluconate","Ribulose 5P","Sedoheptulose 7P","Ribose 5P","Sedoheptulose 1,7-diphosphate"], "title": null, "scale": {"paddingInner": 0, "paddingOuter": 0}, "axis": {"labelFontSize": 9.7, "tickSize": 4, "domain": false, "labelPadding": 2, "labelLimit": 250}}
},
"layer": [
{"mark": {"type": "rect", "color": "#8c8c8c"}},
{"transform": [{"filter": "isValid(datum.p)"}], "mark": "rect", "encoding": {"color": {"field": "p", "type": "quantitative", "scale": {"domain": [0, 0.1], "range": ["#1010f0", "#f01010"], "clamp": true, "interpolate": "rgb"}, "legend": {"title": null, "orient": "right", "gradientLength": 143, "gradientThickness": 19, "values": [0.01,0.02,0.03,0.04,0.05,0.06,0.07,0.08,0.09,0.1], "format": ".2f", "labelFontSize": 9, "offset": 7, "gradientStrokeColor": "black", "gradientStrokeWidth": 1, "labelOverlap": false}}}}
]
}
]
}
]
},
{
"resolve": {"scale": {"fill": "independent", "color": "independent"}, "legend": {"fill": "independent", "color": "independent"}},
"spacing": 85,
"hconcat": [
{
"width": 316, "height": 205,
"layer": [
{"data": {"values": [{}]}, "mark": {"type": "rule", "strokeDash": [2, 2], "color": "#444", "strokeWidth": 1}, "encoding": {"y": {"datum": 0, "type": "quantitative", "scale": {"domain": [-2, 2], "nice": false, "zero": false}}}},
{
"encoding": {"x": {"field": "m", "type": "nominal", "sort": ["Citric acid","2-Oxoglutaric acid","2-Hydroxyglutarate","Succinic acid","Fumaric acid","Malic acid"], "title": null, "scale": {"paddingInner": 0.27, "paddingOuter": 0.135}, "axis": {"labelAngle": -30, "labelFontSize": 11.3, "labelFontWeight": "bold", "domainWidth": 2.5, "tickWidth": 2, "tickSize": 5, "labelPadding": 3, "labelLimit": 300}}},
"layer": [
{"data": {"name": "boxC"}, "mark": {"type": "rule", "color": "black", "strokeWidth": 1}, "encoding": {"xOffset": {"field": "g", "type": "nominal", "scale": {"domain": ["BT20","BT20/sc-BT20","sc-BT20","sc-BT20/siMCT1-BT20","siMCT1-BT20","siMCT1-BT20/MDA-MB-231","MDA-MB-231"], "paddingInner": 0, "paddingOuter": 0}}, "y": {"field": "min", "type": "quantitative", "scale": {"domain": [-2, 2], "nice": false, "zero": false}, "title": "Fold change (log₂)", "axis": {"values": [-2, -1, 0, 1, 2], "labelExpr": "''+datum.value", "labelFontSize": 11.5, "labelFontWeight": "bold", "titleFontSize": 11.5, "titleFontWeight": "bold", "domainWidth": 2.5, "tickWidth": 2, "tickSize": 5, "labelPadding": 3, "titlePadding": 11}}, "y2": {"field": "max"}}},
{"data": {"name": "boxC"}, "mark": {"type": "tick", "color": "black", "size": 4, "thickness": 1}, "encoding": {"xOffset": {"field": "g", "type": "nominal", "scale": {"domain": ["BT20","BT20/sc-BT20","sc-BT20","sc-BT20/siMCT1-BT20","siMCT1-BT20","siMCT1-BT20/MDA-MB-231","MDA-MB-231"], "paddingInner": 0, "paddingOuter": 0}}, "y": {"field": "min", "type": "quantitative", "scale": {"domain": [-2, 2], "nice": false, "zero": false}, "title": "Fold change (log₂)"}}},
{"data": {"name": "boxC"}, "mark": {"type": "tick", "color": "black", "size": 4, "thickness": 1}, "encoding": {"xOffset": {"field": "g", "type": "nominal", "scale": {"domain": ["BT20","BT20/sc-BT20","sc-BT20","sc-BT20/siMCT1-BT20","siMCT1-BT20","siMCT1-BT20/MDA-MB-231","MDA-MB-231"], "paddingInner": 0, "paddingOuter": 0}}, "y": {"field": "max", "type": "quantitative", "scale": {"domain": [-2, 2], "nice": false, "zero": false}, "title": "Fold change (log₂)"}}},
{"data": {"name": "boxC"}, "mark": {"type": "bar", "size": 6.5, "stroke": "black", "strokeWidth": 1}, "encoding": {"xOffset": {"field": "g", "type": "nominal", "scale": {"domain": ["BT20","BT20/sc-BT20","sc-BT20","sc-BT20/siMCT1-BT20","siMCT1-BT20","siMCT1-BT20/MDA-MB-231","MDA-MB-231"], "paddingInner": 0, "paddingOuter": 0}}, "y": {"field": "q1", "type": "quantitative", "scale": {"domain": [-2, 2], "nice": false, "zero": false}, "title": "Fold change (log₂)"}, "y2": {"field": "q3"}, "fill": {"field": "g", "type": "nominal", "scale": {"domain": ["BT20","sc-BT20","siMCT1-BT20","MDA-MB-231"], "range": ["#ec1c24","#f6b8bc","#0a14d2","#b4b4f0"]}, "legend": {"title": "C", "orient": "none", "legendX": -61, "legendY": -28.5, "direction": "horizontal", "titleOrient": "left", "titleBaseline": "bottom", "titleFontSize": 18, "titleFontWeight": "bold", "titlePadding": 52, "symbolType": "square", "symbolSize": 121, "symbolStrokeColor": "black", "symbolStrokeWidth": 1, "labelFontSize": 10.8, "labelOffset": 5, "columnPadding": 19}}}},
{"data": {"name": "boxC"}, "mark": {"type": "tick", "color": "black", "size": 6.5, "thickness": 1.2}, "encoding": {"xOffset": {"field": "g", "type": "nominal", "scale": {"domain": ["BT20","BT20/sc-BT20","sc-BT20","sc-BT20/siMCT1-BT20","siMCT1-BT20","siMCT1-BT20/MDA-MB-231","MDA-MB-231"], "paddingInner": 0, "paddingOuter": 0}}, "y": {"field": "med", "type": "quantitative", "scale": {"domain": [-2, 2], "nice": false, "zero": false}, "title": "Fold change (log₂)"}}},
{"data": {"name": "brC"}, "transform": [{"fold": ["from", "to"], "as": ["end", "slot"]}], "mark": {"type": "line", "color": "black", "strokeWidth": 1.3}, "encoding": {"xOffset": {"field": "slot", "type": "nominal", "scale": {"domain": ["BT20","BT20/sc-BT20","sc-BT20","sc-BT20/siMCT1-BT20","siMCT1-BT20","siMCT1-BT20/MDA-MB-231","MDA-MB-231"], "paddingInner": 0, "paddingOuter": 0}}, "y": {"field": "y", "type": "quantitative", "scale": {"domain": [-2, 2], "nice": false, "zero": false}, "title": "Fold change (log₂)"}, "detail": {"field": "id"}}},
{"data": {"name": "brC"}, "transform": [{"fold": ["from", "to"], "as": ["end", "slot"]}], "mark": {"type": "tick", "orient": "vertical", "color": "black", "size": 7, "thickness": 1.3}, "encoding": {"xOffset": {"field": "slot", "type": "nominal", "scale": {"domain": ["BT20","BT20/sc-BT20","sc-BT20","sc-BT20/siMCT1-BT20","siMCT1-BT20","siMCT1-BT20/MDA-MB-231","MDA-MB-231"], "paddingInner": 0, "paddingOuter": 0}}, "y": {"field": "y", "type": "quantitative", "scale": {"domain": [-2, 2], "nice": false, "zero": false}, "title": "Fold change (log₂)"}}},
{"data": {"name": "pathC"}, "mark": {"type": "line", "color": "black", "strokeWidth": 1.3}, "encoding": {"xOffset": {"field": "slot", "type": "nominal", "scale": {"domain": ["BT20","BT20/sc-BT20","sc-BT20","sc-BT20/siMCT1-BT20","siMCT1-BT20","siMCT1-BT20/MDA-MB-231","MDA-MB-231"], "paddingInner": 0, "paddingOuter": 0}}, "y": {"field": "y", "type": "quantitative", "scale": {"domain": [-2, 2], "nice": false, "zero": false}, "title": "Fold change (log₂)"}, "detail": {"field": "id"}, "order": {"field": "o"}}},
{"data": {"name": "lblC"}, "transform": [{"filter": "datum.t == 'ns'"}], "mark": {"type": "text", "fontSize": 11.5, "color": "black", "baseline": "middle"}, "encoding": {"xOffset": {"field": "mid", "type": "nominal", "scale": {"domain": ["BT20","BT20/sc-BT20","sc-BT20","sc-BT20/siMCT1-BT20","siMCT1-BT20","siMCT1-BT20/MDA-MB-231","MDA-MB-231"], "paddingInner": 0, "paddingOuter": 0}}, "y": {"field": "y", "type": "quantitative", "scale": {"domain": [-2, 2], "nice": false, "zero": false}, "title": "Fold change (log₂)"}, "text": {"field": "t"}}},
{"data": {"name": "lblC"}, "transform": [{"filter": "datum.t != 'ns'"}], "mark": {"type": "text", "fontSize": 10, "color": "black", "baseline": "middle", "dy": 2}, "encoding": {"xOffset": {"field": "mid", "type": "nominal", "scale": {"domain": ["BT20","BT20/sc-BT20","sc-BT20","sc-BT20/siMCT1-BT20","siMCT1-BT20","siMCT1-BT20/MDA-MB-231","MDA-MB-231"], "paddingInner": 0, "paddingOuter": 0}}, "y": {"field": "y", "type": "quantitative", "scale": {"domain": [-2, 2], "nice": false, "zero": false}, "title": "Fold change (log₂)"}, "text": {"field": "t"}}}
]
}
]
},
{
"spacing": 0,
"resolve": {"scale": {"color": "independent"}, "legend": {"color": "independent"}},
"vconcat": [
{"width": 1, "height": 45, "data": {"values": []}, "mark": "point"},
{
"width": 98, "height": 143,
"title": {"text": "P values", "anchor": "start", "frame": "group", "fontSize": 10.5, "fontWeight": "bold", "offset": 5},
"view": {"stroke": "black", "strokeWidth": 1.5},
"data": {"name": "heatC"},
"encoding": {
"x": {"field": "g", "type": "nominal", "sort": ["BT20","siMCT1-BT20","sc-BT20","MDA-MB-231"], "title": null, "scale": {"paddingInner": 0, "paddingOuter": 0}, "axis": {"labelAngle": -45, "labelFontWeight": "bold", "labelFontSize": 9.5, "tickSize": 4, "domain": false, "labelPadding": 2}},
"y": {"field": "m", "type": "nominal", "sort": ["Citric acid","2-Oxoglutaric acid","2-Hydroxyglutarate","Succinic acid","Fumaric acid","Malic acid"], "title": null, "scale": {"paddingInner": 0, "paddingOuter": 0}, "axis": {"labelFontSize": 9.7, "tickSize": 4, "domain": false, "labelPadding": 2, "labelLimit": 250}}
},
"layer": [
{"mark": {"type": "rect", "color": "#8c8c8c"}},
{"transform": [{"filter": "isValid(datum.p)"}], "mark": "rect", "encoding": {"color": {"field": "p", "type": "quantitative", "scale": {"domain": [0, 0.1], "range": ["#1010f0", "#f01010"], "clamp": true, "interpolate": "rgb"}, "legend": {"title": null, "orient": "right", "gradientLength": 143, "gradientThickness": 14, "values": [0.01,0.02,0.03,0.04,0.05,0.06,0.07,0.08,0.09,0.1], "format": ".2f", "labelFontSize": 9, "offset": 5, "gradientStrokeColor": "black", "gradientStrokeWidth": 1, "labelOverlap": false}}}}
]
}
]
}
]
}
]
}
]
}
